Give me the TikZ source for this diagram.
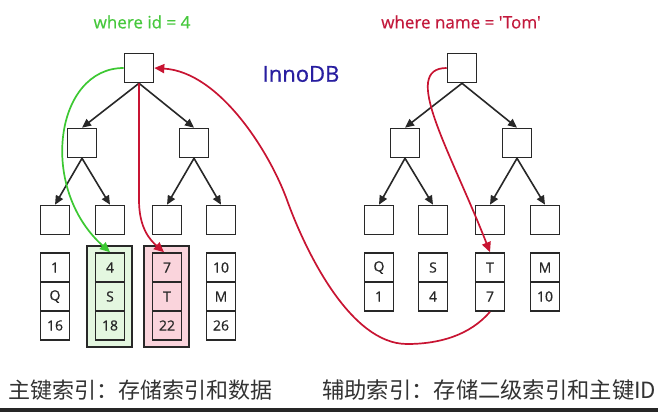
\documentclass[tikz,border=0pt]{standalone}
\usepackage{fontspec}
\setmainfont{Open Sans}
\newfontfamily\cjk{Noto Sans CJK SC}
\newfontfamily\lblfont[FakeBold=0.6]{Open Sans}
\usetikzlibrary{arrows.meta}
\definecolor{linec}{RGB}{40,40,40}
\definecolor{gline}{RGB}{60,200,50}
\definecolor{rline}{RGB}{200,20,50}
\definecolor{gtext}{RGB}{70,200,60}
\definecolor{rtext}{RGB}{195,25,60}
\definecolor{btext}{RGB}{40,30,160}
\definecolor{gfill}{RGB}{228,247,224}
\definecolor{pfill}{RGB}{250,212,220}
\begin{document}
\begin{tikzpicture}[x=1pt,y=-1pt,
  box/.style={draw=linec, line width=1.6pt, minimum width=29pt, minimum height=29pt, inner sep=0pt, fill=white},
  cell/.style={draw=linec, line width=1.6pt, minimum width=29pt, minimum height=29pt, inner sep=0pt, font=\lblfont\fontsize{14}{14}\selectfont, text=linec},
  hl/.style={draw=linec, line width=1.6pt, minimum width=45pt, minimum height=101pt, inner sep=0pt},
  edge/.style={draw=linec, line width=1.6pt, -{Triangle[length=9pt,width=8pt]}},
  garrow/.style={draw=gline, line width=1.7pt, -{Triangle[length=10pt,width=9pt]}},
  rarrow/.style={draw=rline, line width=1.7pt, -{Triangle[length=10pt,width=9pt]}},
  lbl/.style={inner sep=0pt, font=\lblfont\fontsize{17}{17}\selectfont}
]
\useasboundingbox (0,0) rectangle (658,412);
\fill[white] (0,0) rectangle (658,412);
\fill[black!85] (0,408) rectangle (658,412);

% labels
\node[lbl, text=gtext] (q1) at (142,22) {where id = 4};
\node[lbl, text=rtext] (q2) at (461,22) {where name = 'Tom'};
\node[inner sep=0pt, font=\lblfont\fontsize{22}{22}\selectfont, text=btext] (inno) at (301,74) {InnoDB};

% highlight frames
\node[hl, fill=gfill] (hg) at (109.5,296.5) {};
\node[hl, fill=pfill] (hp) at (166.5,296.5) {};

% left tree
\node[box] (r1) at (139,68) {};
\node[box] (a1) at (82,143) {};
\node[box] (a2) at (194,143) {};
\node[box] (l1) at (55,220) {};
\node[box] (l2) at (110,220) {};
\node[box] (l3) at (167,220) {};
\node[box] (l4) at (221,220) {};
\foreach \p/\c in {r1/a1, r1/a2, a1/l1, a1/l2, a2/l3, a2/l4}
  \draw[edge] (\p.south) -- (\c.north);

% left data columns
\node[cell] (c1a) at (55,267.5) {1};
\node[cell] (c1b) at (55,296.5) {Q};
\node[cell] (c1c) at (55,325.5) {16};
\node[cell] (c2a) at (110,267.5) {4};
\node[cell] (c2b) at (110,296.5) {S};
\node[cell] (c2c) at (110,325.5) {18};
\node[cell] (c3a) at (167,267.5) {7};
\node[cell] (c3b) at (167,296.5) {T};
\node[cell] (c3c) at (167,325.5) {22};
\node[cell] (c4a) at (221,267.5) {10};
\node[cell] (c4b) at (221,296.5) {M};
\node[cell] (c4c) at (221,325.5) {26};

% right tree
\node[box] (r2) at (462,68) {};
\node[box] (b1) at (405,143) {};
\node[box] (b2) at (517,143) {};
\node[box] (m1) at (379,220) {};
\node[box] (m2) at (433,220) {};
\node[box] (m3) at (490,220) {};
\node[box] (m4) at (545,220) {};
\foreach \p/\c in {r2/b1, r2/b2, b1/m1, b1/m2, b2/m3, b2/m4}
  \draw[edge] (\p.south) -- (\c.north);

% right data columns
\node[cell] (d1a) at (379,267.5) {Q};
\node[cell] (d1b) at (379,296.5) {1};
\node[cell] (d2a) at (433,267.5) {S};
\node[cell] (d2b) at (433,296.5) {4};
\node[cell] (d3a) at (490,267.5) {T};
\node[cell] (d3b) at (490,296.5) {7};
\node[cell] (d4a) at (545,267.5) {M};
\node[cell] (d4b) at (545,296.5) {10};

% search paths
\draw[garrow] (r1.west) .. controls (55,68) and (38,188) .. (c2a.north);
\draw[rarrow] (r1.south) -- (139,200) .. controls (139,228) and (150,240) .. ([xshift=-3pt]c3a.north);
\draw[rarrow] (r2.west) .. controls (400,68) and (450,150) .. (d3a.north);
\draw[rarrow] (d3b.south) .. controls (470,335) and (440,344) .. (407,344)
  .. controls (350,344) and (305,250) .. (287,200)
  .. controls (270,153) and (220,72) .. (r1.east);

% captions
\node[anchor=west, inner sep=0pt, font=\cjk\fontsize{22}{22}\selectfont, text=black!80] (cap1) at (8,390) {主键索引：存储索引和数据};
\node[anchor=west, inner sep=0pt, font=\cjk\fontsize{22.3}{22.3}\selectfont, text=black!80] (cap2) at (322,390) {辅助索引：存储二级索引和主键ID};
\end{tikzpicture}
\end{document}
